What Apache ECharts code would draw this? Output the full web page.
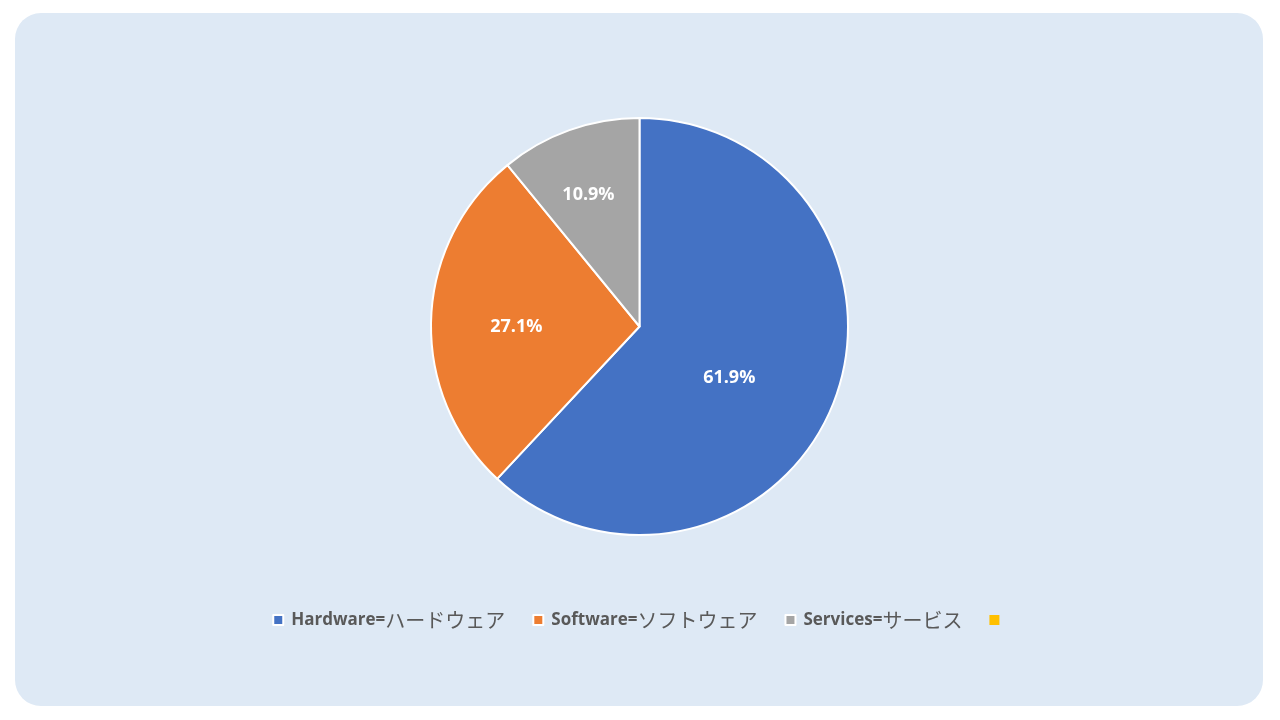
<!DOCTYPE html>
<html>
<head>
<meta charset="utf-8">
<script src="https://cdn.jsdelivr.net/npm/echarts@6/dist/echarts.min.js"></script>
<style>
  html, body { margin: 0; padding: 0; background: #fff; }
  #frame { position: absolute; left: 15px; top: 13px; width: 1248px; height: 693px; background: #dee9f5; border-radius: 26px; }
  #chart { position: absolute; left: 0; top: 0; width: 1280px; height: 720px; }
</style>
</head>
<body>
<div id="frame"></div>
<div id="chart"></div>
<script>
  // data
  var categories = ['Hardware=ハードウェア', 'Software=ソフトウェア', 'Services=サービス', ' '];
  var shares = [61.9, 27.1, 10.9, 0];
  var colors = ['#4472c4', '#ed7d31', '#a5a5a5', '#ffc000'];
  // label nudges (px) to match where Excel put them
  var labelOffsets = [[-10, 12], [-16, 4], [-15, -31], [0, 0]];

  var chart = echarts.init(document.getElementById('chart'));

  var seriesData = categories.map(function (name, i) {
    var item = {
      name: name,
      value: shares[i],
      itemStyle: { color: colors[i] },
      label: { offset: labelOffsets[i] }
    };
    if (shares[i] === 0) {
      item.label.show = false;
      item.itemStyle.borderWidth = 0;
    }
    return item;
  });

  var option = {
    backgroundColor: 'transparent',
    legend: {
      left: 'center',
      top: 605,
      icon: 'rect',
      itemWidth: 10,
      itemHeight: 10,
      itemGap: 27,
      data: categories,
      formatter: function (name) {
        var k = name.indexOf('=');
        if (k < 0) return name;
        return '{a|' + name.slice(0, k + 1) + '}{b|' + name.slice(k + 1) + '}';
      },
      textStyle: {
        color: '#595959',
        rich: {
          a: { fontFamily: '"Open Sans", "Noto Sans", sans-serif', fontWeight: 'bold', fontSize: 17, color: '#595959', padding: [0, 0, 0, 3] },
          b: { fontFamily: '"Noto Sans CJK JP", sans-serif', fontSize: 20, color: '#595959' }
        }
      }
    },
    series: [{
      type: 'pie',
      center: [639.5, 326.5],
      radius: 208.5,
      startAngle: 90,
      clockwise: true,
      avoidLabelOverlap: false,
      itemStyle: { borderColor: '#ffffff', borderWidth: 2 },
      label: {
        show: true,
        position: 'inside',
        formatter: function (p) { return p.value.toFixed(1) + '%'; },
        color: '#ffffff',
        fontFamily: '"Open Sans", "Noto Sans", sans-serif',
        fontWeight: 'bold',
        fontSize: 18
      },
      labelLine: { show: false },
      emphasis: { disabled: true },
      data: seriesData
    }]
  };

  chart.setOption(option);
</script>
</body>
</html>
